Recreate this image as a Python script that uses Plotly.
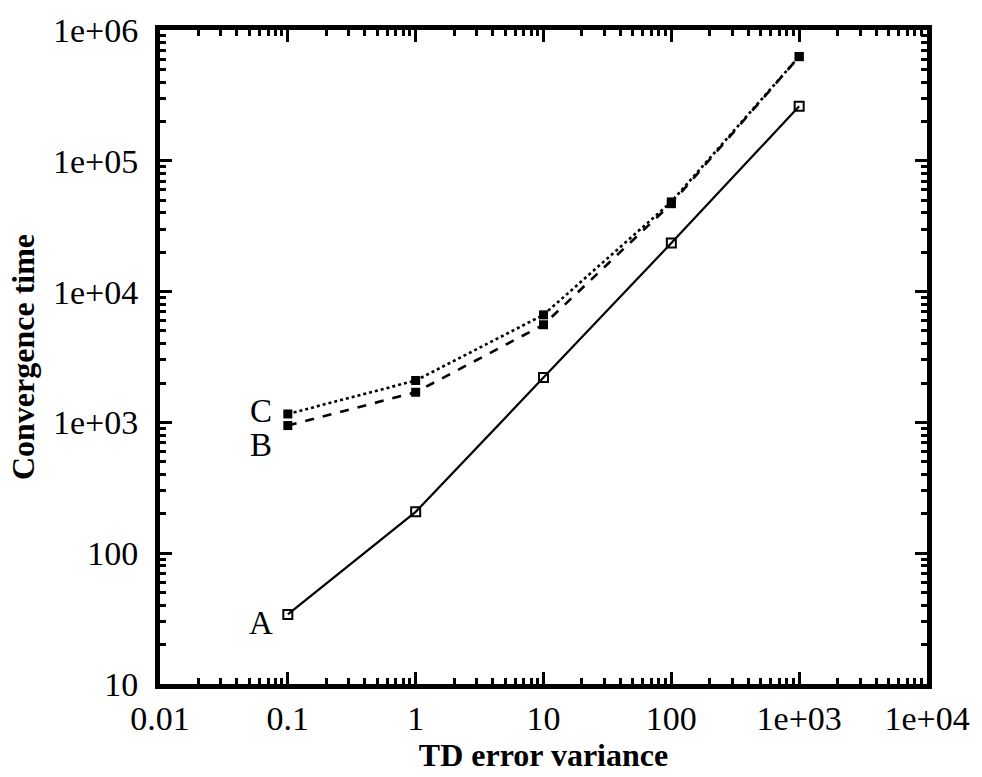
import math
import plotly.graph_objects as go

# Data
td_variance = [0.1, 1, 10, 100, 1000]
conv_A = [34, 207, 2200, 23500, 261000]
conv_B = [946, 1700, 5580, 47000, 625000]
conv_C = [1160, 2090, 6640, 48500, 628000]

x_tickvals = [0.01, 0.1, 1, 10, 100, 1000, 10000]
x_ticktext = ["0.01", "0.1", "1", "10", "100", "1e+03", "1e+04"]
y_tickvals = [10, 100, 1000, 10000, 100000, 1000000]
y_ticktext = ["10", "100", "1e+03", "1e+04", "1e+05", "1e+06"]

curve_labels = ["A", "B", "C"]
label_x = [0.0615, 0.0615, 0.0615]
label_y = [29.1, 670, 1225]

FONT = "Liberation Serif"

fig = go.Figure()
fig.add_trace(go.Scatter(x=td_variance, y=conv_A, mode="lines+markers",
                         line=dict(color="black", width=2.2, dash="solid"),
                         marker=dict(symbol="square-open", size=9, color="black",
                                     line=dict(width=2, color="black")),
                         name="A"))
fig.add_trace(go.Scatter(x=td_variance, y=conv_B, mode="lines+markers",
                         line=dict(color="black", width=2.6, dash="dash"),
                         marker=dict(symbol="square", size=9, color="black"),
                         name="B"))
fig.add_trace(go.Scatter(x=td_variance, y=conv_C, mode="lines+markers",
                         line=dict(color="black", width=2.6, dash="dot"),
                         marker=dict(symbol="square", size=9, color="black"),
                         name="C"))

for t, lx, ly in zip(curve_labels, label_x, label_y):
    fig.add_annotation(x=math.log10(lx), y=math.log10(ly), text=t, showarrow=False,
                       xref="x", yref="y",
                       font=dict(family=FONT, size=33, color="black"))

axis_common = dict(
    type="log",
    showgrid=False,
    zeroline=False,
    showline=True,
    linecolor="black",
    linewidth=5,
    mirror="allticks",
    ticks="inside",
    ticklen=12,
    tickwidth=3,
    tickcolor="black",
    tickfont=dict(family=FONT, size=34, color="black"),
    minor=dict(ticks="inside", ticklen=6, tickwidth=2.5, tickcolor="black",
               showgrid=False, dtick="D1"),
)

fig.update_xaxes(**axis_common, range=[-2, 4], tickvals=x_tickvals, ticktext=x_ticktext,
                 title=dict(text="<b>TD error variance</b>",
                            font=dict(family=FONT, size=32, color="black"), standoff=6))
fig.update_yaxes(**axis_common, range=[1, 6], tickvals=y_tickvals, ticktext=y_ticktext,
                 ticklabelstandoff=10,
                 title=dict(text="<b>Convergence time</b>",
                            font=dict(family=FONT, size=32, color="black"), standoff=10))

fig.update_layout(
    width=982, height=777,
    margin=dict(l=160, r=49, t=24, b=85),
    paper_bgcolor="white", plot_bgcolor="white",
    showlegend=False,
)

fig.write_html("out.html")
